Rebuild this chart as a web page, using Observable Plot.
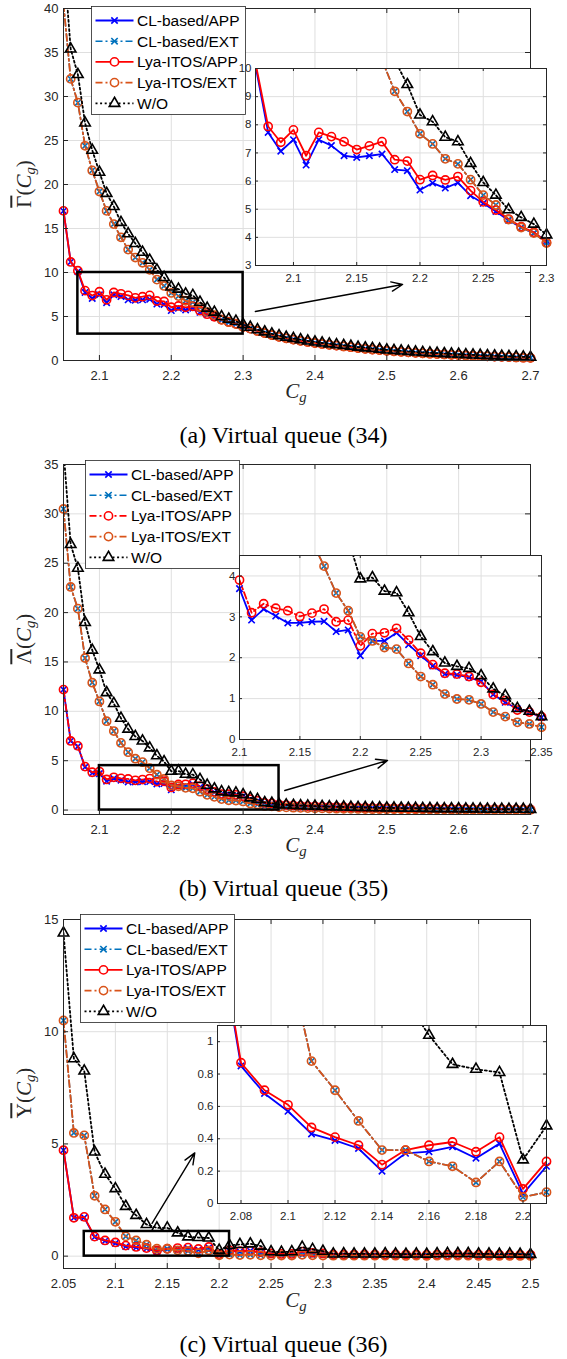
<!DOCTYPE html>
<html>
<head>
<meta charset="utf-8">
<script src="https://cdn.jsdelivr.net/npm/d3@7"></script>
<script src="https://cdn.jsdelivr.net/npm/@observablehq/plot@0.6"></script>
<style>
  body { margin: 0; background: #fff; }
  #root { position: relative; width: 567px; height: 1359px; overflow: hidden; background: #fff; }
  .abs { position: absolute; }
  .cap { position: absolute; left: 0; width: 567px; text-align: center; line-height: 24px;
         font-family: "Liberation Serif", "Times New Roman", serif; font-size: 24px; color: #000; white-space: nowrap; }
  .xlab { position: absolute; transform: translate(-50%, -50%); font-family: "Liberation Serif", serif;
          font-size: 21px; color: #262626; white-space: nowrap; line-height: 1; }
  .ylab { position: absolute; transform: translate(-50%, -50%) rotate(-90deg); font-family: "Liberation Serif", serif;
          font-size: 21px; color: #262626; white-space: nowrap; line-height: 1; }
  .ov { text-decoration: overline; }
  sub { font-size: 70%; vertical-align: -0.25em; }
</style>
</head>
<body>
<div id="root"></div>
<script>
// ---------------- DATA ----------------
const xsAB = [2.05, 2.06, 2.07, 2.08, 2.09, 2.10, 2.11, 2.12, 2.13, 2.14, 2.15, 2.16, 2.17, 2.18, 2.19,
  2.20, 2.21, 2.22, 2.23, 2.24, 2.25, 2.26, 2.27, 2.28, 2.29, 2.30, 2.31, 2.32, 2.33, 2.34, 2.35,
  2.36, 2.37, 2.38, 2.39, 2.40, 2.41, 2.42, 2.43, 2.44, 2.45, 2.46, 2.47, 2.48, 2.49, 2.50,
  2.51, 2.52, 2.53, 2.54, 2.55, 2.56, 2.57, 2.58, 2.59, 2.60, 2.61, 2.62, 2.63, 2.64, 2.65,
  2.66, 2.67, 2.68, 2.69, 2.70];
const xsC = [2.05, 2.06, 2.07, 2.08, 2.09, 2.10, 2.11, 2.12, 2.13, 2.14, 2.15, 2.16, 2.17, 2.18, 2.19,
  2.20, 2.21, 2.22, 2.23, 2.24, 2.25, 2.26, 2.27, 2.28, 2.29, 2.30, 2.31, 2.32, 2.33, 2.34, 2.35,
  2.36, 2.37, 2.38, 2.39, 2.40, 2.41, 2.42, 2.43, 2.44, 2.45, 2.46, 2.47, 2.48, 2.49, 2.50];

const seriesNames = ["CL-based/APP", "CL-based/EXT", "Lya-ITOS/APP", "Lya-ITOS/EXT", "W/O"];

// Panel (a): Virtual queue (34)   (2.05 .. 2.30, then 2.31 .. 2.70)
const clAppHeadA  = [17.0, 11.2, 10.1, 7.73, 7.06, 7.47, 6.57, 7.47, 7.26, 6.90, 6.84, 6.90, 6.96, 6.41, 6.37, 5.68, 5.93, 5.75, 5.94, 5.48, 5.21, 4.92, 4.61, 4.35, 4.15, 3.88];
const lyaAppHeadA = [17.0, 11.2, 10.2, 7.94, 7.38, 7.82, 6.90, 7.73, 7.58, 7.40, 7.12, 7.25, 7.40, 6.76, 6.71, 6.05, 6.20, 6.04, 6.16, 5.66, 5.26, 4.97, 4.65, 4.38, 4.18, 3.82];
const extHeadA    = [40.5, 32.0, 29.3, 24.4, 21.6, 19.2, 17.0, 15.5, 14.0, 12.6, 11.7, 11.1, 10.3, 9.19, 8.47, 7.68, 7.32, 6.79, 6.61, 6.05, 5.50, 5.15, 4.63, 4.35, 4.15, 3.80];
const woHeadA     = [46.0, 35.4, 32.5, 27.0, 23.9, 21.4, 19.0, 17.5, 15.7, 14.4, 13.3, 12.3, 11.4, 10.3, 9.43, 8.35, 8.11, 7.56, 7.40, 6.63, 5.95, 5.50, 4.98, 4.71, 4.47, 4.09];
const algTailA = [3.62, 3.36, 3.12, 2.90, 2.70, 2.52, 2.38, 2.24, 2.11, 1.99, 1.88, 1.78, 1.69, 1.60, 1.51, 1.41, 1.33, 1.25, 1.18, 1.10,
  1.04, 0.98, 0.92, 0.87, 0.82, 0.77, 0.73, 0.69, 0.65, 0.61, 0.57, 0.54, 0.50, 0.47, 0.44, 0.41, 0.38, 0.35, 0.32, 0.30];
const woTailA = [3.78, 3.50, 3.26, 3.02, 2.82, 2.64, 2.50, 2.36, 2.22, 2.10, 1.99, 1.89, 1.80, 1.71, 1.62, 1.52, 1.44, 1.36, 1.28, 1.20,
  1.14, 1.08, 1.02, 0.97, 0.92, 0.87, 0.83, 0.79, 0.75, 0.71, 0.67, 0.63, 0.60, 0.56, 0.53, 0.50, 0.47, 0.44, 0.41, 0.38];

// Panel (b): Virtual queue (35)   (2.05 .. 2.35, then 2.36 .. 2.70)
const clAppHeadB  = [12.2, 7.0, 6.45, 4.35, 3.75, 3.69, 2.92, 3.19, 3.02, 2.85, 2.85, 2.88, 2.89, 2.64, 2.68, 2.05, 2.41, 2.41, 2.61, 2.32, 2.05, 1.80, 1.60, 1.58, 1.52, 1.42, 1.10, 0.91, 0.75, 0.67, 0.54];
const lyaAppHeadB = [12.2, 7.0, 6.5, 4.4, 3.83, 3.90, 3.10, 3.32, 3.21, 3.15, 3.01, 3.09, 3.19, 2.88, 2.92, 2.29, 2.59, 2.61, 2.72, 2.43, 2.11, 1.83, 1.62, 1.60, 1.54, 1.40, 1.10, 0.95, 0.72, 0.67, 0.56];
const extHeadB    = [30.5, 22.6, 20.4, 15.4, 12.9, 11.0, 9.0, 8.0, 6.8, 5.86, 5.2, 4.85, 4.24, 3.58, 3.15, 2.51, 2.41, 2.25, 2.21, 1.86, 1.54, 1.34, 1.11, 0.99, 0.97, 0.87, 0.67, 0.56, 0.42, 0.38, 0.30];
const woHeadB     = [36.5, 26.9, 24.5, 19.0, 16.2, 14.2, 11.9, 10.8, 9.3, 8.2, 7.45, 7.0, 6.3, 5.5, 4.9, 3.93, 3.96, 3.63, 3.59, 3.10, 2.52, 2.15, 1.87, 1.79, 1.74, 1.56, 1.24, 1.07, 0.76, 0.69, 0.56];
const appTailB = [0.50, 0.46, 0.43, 0.40, 0.38, 0.35, 0.33, 0.31, 0.29, 0.27, 0.25, 0.24, 0.22, 0.21, 0.20, 0.19, 0.18, 0.17, 0.16, 0.15,
  0.14, 0.13, 0.13, 0.12, 0.11, 0.11, 0.10, 0.09, 0.09, 0.08, 0.08, 0.07, 0.07, 0.06, 0.06];
const extTailB = [0.27, 0.24, 0.22, 0.20, 0.18, 0.17, 0.15, 0.14, 0.13, 0.12, 0.11, 0.10, 0.09, 0.09, 0.08, 0.08, 0.07, 0.07, 0.06, 0.06,
  0.05, 0.05, 0.05, 0.04, 0.04, 0.04, 0.04, 0.03, 0.03, 0.03, 0.03, 0.03, 0.02, 0.02, 0.02];
const woTailB = [0.52, 0.48, 0.45, 0.42, 0.40, 0.37, 0.35, 0.33, 0.31, 0.29, 0.27, 0.26, 0.24, 0.23, 0.22, 0.21, 0.20, 0.19, 0.18, 0.17,
  0.16, 0.15, 0.14, 0.14, 0.13, 0.12, 0.12, 0.11, 0.10, 0.10, 0.09, 0.09, 0.08, 0.08, 0.07];

// Panel (c): Virtual queue (36)   (2.05 .. 2.50)
const clAppC  = [4.72, 1.71, 1.72, 0.85, 0.68, 0.57, 0.43, 0.39, 0.34, 0.20, 0.31, 0.32, 0.35, 0.28, 0.37, 0.06, 0.23,
  0.20, 0.23, 0.16, 0.11, 0.09, 0.09, 0.18, 0.13, 0.11,
  0.07, 0.07, 0.06, 0.07, 0.06, 0.06, 0.07, 0.06, 0.06, 0.05, 0.06, 0.06, 0.07, 0.07, 0.06, 0.06, 0.05, 0.05, 0.05, 0.05];
const lyaAppC = [4.72, 1.71, 1.75, 0.87, 0.70, 0.61, 0.47, 0.41, 0.36, 0.24, 0.33, 0.36, 0.38, 0.32, 0.41, 0.09, 0.26,
  0.22, 0.25, 0.18, 0.12, 0.10, 0.10, 0.20, 0.15, 0.12,
  0.08, 0.08, 0.07, 0.08, 0.07, 0.07, 0.08, 0.07, 0.07, 0.06, 0.07, 0.07, 0.08, 0.08, 0.07, 0.07, 0.06, 0.06, 0.06, 0.06];
const extC    = [10.5, 5.49, 5.38, 2.69, 2.08, 1.53, 0.88, 0.70, 0.51, 0.33, 0.33, 0.26, 0.23, 0.13, 0.26, 0.04, 0.07,
  0.05, 0.06, 0.04, 0.03, 0.03, 0.03, 0.06, 0.04, 0.03,
  0.02, 0.02, 0.02, 0.02, 0.02, 0.02, 0.02, 0.01, 0.02, 0.01, 0.02, 0.02, 0.02, 0.02, 0.01, 0.01, 0.01, 0.01, 0.01, 0.01];
const woC     = [14.4, 8.8, 8.25, 4.64, 3.65, 3.01, 2.22, 1.82, 1.41, 1.26, 1.26, 1.04, 0.86, 0.83, 0.81, 0.27, 0.48,
  0.52, 0.55, 0.45, 0.20, 0.18, 0.20, 0.40, 0.30, 0.22,
  0.10, 0.11, 0.10, 0.10, 0.10, 0.11, 0.10, 0.09, 0.10, 0.09, 0.11, 0.12, 0.12, 0.12, 0.10, 0.10, 0.09, 0.10, 0.09, 0.08];

// Tick values
const xTicksAB = [2.1, 2.2, 2.3, 2.4, 2.5, 2.6, 2.7];
const xTicksC = [2.05, 2.1, 2.15, 2.2, 2.25, 2.3, 2.35, 2.4, 2.45, 2.5];
const yTicksA = [0, 5, 10, 15, 20, 25, 30, 35, 40];
const yTicksB = [0, 5, 10, 15, 20, 25, 30, 35];
const yTicksC = [0, 5, 10, 15];
const insetXTicksA = [2.1, 2.15, 2.2, 2.25, 2.3];
const insetYTicksA = [3, 4, 5, 6, 7, 8, 9, 10];
const insetXTicksB = [2.1, 2.15, 2.2, 2.25, 2.3, 2.35];
const insetYTicksB = [0, 1, 2, 3, 4];
const insetXTicksC = [2.08, 2.1, 2.12, 2.14, 2.16, 2.18, 2.2];
const insetYTicksC = [0, 0.2, 0.4, 0.6, 0.8, 1];

// Zoom boxes and arrows (data coordinates of the main axes)
const zoomBoxA = {x1: 2.07, x2: 2.30, y1: 3, y2: 10};
const zoomBoxB = {x1: 2.10, x2: 2.35, y1: 0, y2: 4.5};
const zoomBoxC = {x1: 2.07, x2: 2.21, y1: 0, y2: 1.1};
const arrowA = {x1: 2.317, y1: 5.57, x2: 2.522, y2: 8.64};
const arrowB = {x1: 2.358, y1: 1.98, x2: 2.501, y2: 5.02};
const arrowC = {x1: 2.1353, y1: 1.46, x2: 2.1765, y2: 4.6};

const captions = ["(a) Virtual queue (34)", "(b) Virtual queue (35)", "(c) Virtual queue (36)"];
const yLabelSymbols = ["Γ", "Λ", "Υ"];

// ---------------- BUILD ----------------
const clAppA = [...clAppHeadA, ...algTailA];
const lyaAppA = [...lyaAppHeadA, ...algTailA];
const extA = [...extHeadA, ...algTailA];
const woA = [...woHeadA, ...woTailA];
const clAppB = [...clAppHeadB, ...appTailB];
const lyaAppB = [...lyaAppHeadB, ...appTailB];
const extB = [...extHeadB, ...extTailB];
const woB = [...woHeadB, ...woTailB];

const DASHDOT = "7,3,2,3";
const DOTTED = "2,2.6";
const GRID = "#dfdfdf";
const AXIS = "#262626";
const FONT = "'Liberation Sans', Arial, Helvetica, sans-serif";

function styles(lyaDash) {
  return [
    {stroke: "#0000FF", dash: null, symbol: "times", r: 3.0, sw: 1.8},
    {stroke: "#0072BD", dash: DASHDOT, symbol: "times", r: 3.0, sw: 1.6},
    {stroke: "#FF0000", dash: lyaDash ? DASHDOT : null, symbol: "circle", r: 4.1, sw: 1.8},
    {stroke: "#D95319", dash: DASHDOT, symbol: "circle", r: 4.1, sw: 1.8},
    {stroke: "#000000", dash: DOTTED, symbol: "triangle", r: 3.9, sw: 1.8}
  ];
}

const fmt = d => String(+(+d).toFixed(3));

function seriesMarks(xs, ys, st, xd, yd) {
  const marks = [];
  ys.forEach((arr, i) => {
    const s = st[i];
    const rows = xs.map((x, j) => ({x, y: arr[j]}));
    const lineOpts = {x: "x", y: "y", stroke: s.stroke, strokeWidth: s.sw, clip: true};
    if (s.dash) lineOpts.strokeDasharray = s.dash;
    marks.push(Plot.line(rows, lineOpts));
    const vis = rows.filter(d => d.x >= xd[0] - 1e-9 && d.x <= xd[1] + 1e-9 && d.y >= yd[0] && d.y <= yd[1]);
    marks.push(Plot.dot(vis, {x: "x", y: "y", symbol: s.symbol, r: s.r, stroke: s.stroke, fill: "none", strokeWidth: 1.6}));
  });
  return marks;
}

function tickMarks(xt, yt, fw, fh, tl) {
  return [
    Plot.tickX(xt, {x: d => d, insetTop: fh - tl, stroke: AXIS, strokeWidth: 1}),
    Plot.tickX(xt, {x: d => d, insetBottom: fh - tl, stroke: AXIS, strokeWidth: 1}),
    Plot.tickY(yt, {y: d => d, insetRight: fw - tl, stroke: AXIS, strokeWidth: 1}),
    Plot.tickY(yt, {y: d => d, insetLeft: fw - tl, stroke: AXIS, strokeWidth: 1})
  ];
}

const root = document.getElementById("root");

function place(node, left, top) {
  const div = document.createElement("div");
  div.className = "abs";
  div.style.left = left + "px";
  div.style.top = top + "px";
  div.appendChild(node);
  root.appendChild(div);
  return div;
}

function mainPlot(c) {
  const W = 567, ml = 63, mr = 37, mb = 32;
  const fw = W - ml - mr;
  const p = Plot.plot({
    width: W, height: c.mt + c.fh + mb,
    marginLeft: ml, marginRight: mr, marginTop: c.mt, marginBottom: mb,
    x: {domain: c.xd, axis: null},
    y: {domain: c.yd, axis: null},
    style: {fontFamily: FONT, fontSize: "13px", color: AXIS, background: "transparent", overflow: "visible"},
    marks: [
      Plot.gridX(c.xt, {stroke: GRID, strokeOpacity: 1, strokeWidth: 1}),
      Plot.gridY(c.yt, {stroke: GRID, strokeOpacity: 1, strokeWidth: 1}),
      ...seriesMarks(c.xs, c.ys, c.st, c.xd, c.yd),
      Plot.rect([c.box], {x1: "x1", x2: "x2", y1: "y1", y2: "y2", stroke: "#000", strokeWidth: 2.5, fill: "none"}),
      Plot.arrow([c.arrow], {x1: "x1", y1: "y1", x2: "x2", y2: "y2", stroke: "#000", strokeWidth: 1.4, headLength: 13, headAngle: 45}),
      ...tickMarks(c.xt, c.yt, fw, c.fh, 5),
      Plot.frame({stroke: AXIS, strokeWidth: 1}),
      Plot.axisX(c.xt, {tickSize: 0, tickPadding: 10, tickFormat: fmt, label: null}),
      Plot.axisY(c.yt, {tickSize: 0, tickPadding: 5, tickFormat: fmt, label: null})
    ]
  });
  place(p, 0, c.top);
}

function insetPlot(c) {
  const ml = 32, mr = 14, mt = 4, mb = 24;
  const fw = c.fw, fh = c.fh;
  const p = Plot.plot({
    width: fw + ml + mr, height: fh + mt + mb,
    marginLeft: ml, marginRight: mr, marginTop: mt, marginBottom: mb,
    x: {domain: c.xd, axis: null},
    y: {domain: c.yd, axis: null},
    style: {fontFamily: FONT, fontSize: "11.5px", color: AXIS, background: "transparent", overflow: "visible"},
    marks: [
      Plot.frame({fill: "white", stroke: "none"}),
      Plot.gridX(c.xt, {stroke: GRID, strokeOpacity: 1, strokeWidth: 1}),
      Plot.gridY(c.yt, {stroke: GRID, strokeOpacity: 1, strokeWidth: 1}),
      ...seriesMarks(c.xs, c.ys, c.st, c.xd, c.yd),
      ...tickMarks(c.xt, c.yt, fw, fh, 3),
      Plot.frame({stroke: AXIS, strokeWidth: 1}),
      Plot.axisX(c.xt, {tickSize: 0, tickPadding: 8, tickFormat: fmt, label: null}),
      Plot.axisY(c.yt, {tickSize: 0, tickPadding: 4, tickFormat: fmt, label: null})
    ]
  });
  place(p, c.left - ml, c.top - mt);
}

function legend(st, left, top) {
  const w = 154, h = 108;
  const svg = d3.create("svg").attr("width", w + 2).attr("height", h + 2)
    .style("overflow", "visible").style("display", "block");
  svg.append("rect").attr("x", 0.5).attr("y", 0.5).attr("width", w).attr("height", h)
    .attr("fill", "white").attr("stroke", AXIS).attr("stroke-width", 0.8);
  const symMap = {times: d3.symbolTimes, circle: d3.symbolCircle, triangle: d3.symbolTriangle};
  seriesNames.forEach((name, i) => {
    const s = st[i];
    const y = 14.5 + 20.7 * i;
    const ln = svg.append("line").attr("x1", 4.5).attr("x2", 42.5).attr("y1", y).attr("y2", y)
      .attr("stroke", s.stroke).attr("stroke-width", s.sw);
    if (s.dash) ln.attr("stroke-dasharray", s.dash);
    if (s.symbol === "circle") {
      svg.append("circle").attr("cx", 23.5).attr("cy", y).attr("r", s.r)
        .attr("fill", "white").attr("stroke", s.stroke).attr("stroke-width", 1.6);
    } else {
      svg.append("path").attr("transform", `translate(23.5,${y})`)
        .attr("d", d3.symbol(symMap[s.symbol], s.r * s.r * Math.PI)())
        .attr("fill", s.symbol === "triangle" ? "white" : "none").attr("stroke", s.stroke).attr("stroke-width", 1.6);
    }
    svg.append("text").attr("x", 46).attr("y", y).attr("dy", "0.36em")
      .attr("font-family", FONT).attr("font-size", "15.5px").attr("fill", "#000").text(name);
  });
  place(svg.node(), left, top);
}

function html(cls, left, top, inner) {
  const d = document.createElement("div");
  d.className = cls;
  d.style.left = left + "px";
  d.style.top = top + "px";
  d.innerHTML = inner;
  root.appendChild(d);
}

// ---------- Panel (a) ----------
const stA = styles(false);
mainPlot({top: 0, mt: 8, fh: 352, xd: [2.05, 2.70], yd: [0, 40], xt: xTicksAB, yt: yTicksA,
  xs: xsAB, ys: [clAppA, extA, lyaAppA, extA, woA], st: stA, box: zoomBoxA, arrow: arrowA});
legend(stA, 90.5, 6);
insetPlot({left: 255, top: 68, fw: 291, fh: 197, xd: [2.07, 2.30], yd: [3, 10], xt: insetXTicksA, yt: insetYTicksA,
  xs: xsAB, ys: [clAppA, extA, lyaAppA, extA, woA], st: stA});

// ---------- Panel (b) ----------
const stB = styles(true);
mainPlot({top: 450, mt: 14, fh: 350, xd: [2.05, 2.70], yd: [-0.45, 35], xt: xTicksAB, yt: yTicksB,
  xs: xsAB, ys: [clAppB, extB, lyaAppB, extB, woB], st: stB, box: zoomBoxB, arrow: arrowB});
legend(stB, 85, 459.5);
insetPlot({left: 239, top: 555, fw: 302, fh: 184, xd: [2.10, 2.35], yd: [0, 4.5], xt: insetXTicksB, yt: insetYTicksB,
  xs: xsAB, ys: [clAppB, extB, lyaAppB, extB, woB], st: stB});

// ---------- Panel (c) ----------
const stC = styles(false);
mainPlot({top: 905, mt: 14, fh: 349, xd: [2.05, 2.50], yd: [-0.55, 15], xt: xTicksC, yt: yTicksC,
  xs: xsC, ys: [clAppC, extC, lyaAppC, extC, woC], st: stC, box: zoomBoxC, arrow: arrowC});
legend(stC, 79.5, 913.5);
insetPlot({left: 217, top: 1025, fw: 329, fh: 178, xd: [2.07, 2.21], yd: [0, 1.1], xt: insetXTicksC, yt: insetYTicksC,
  xs: xsC, ys: [clAppC, extC, lyaAppC, extC, woC], st: stC});

// ---------- Labels & captions ----------
const cg = "<i>C</i><sub><i>g</i></sub>";
html("xlab", 296, 393, cg);
html("xlab", 296, 847, cg);
html("xlab", 296, 1302, cg);
html("ylab", 26, 184, `<span class="ov">${yLabelSymbols[0]}</span>(${cg})`);
html("ylab", 26, 639, `<span class="ov">${yLabelSymbols[1]}</span>(${cg})`);
html("ylab", 26, 1093, `<span class="ov">${yLabelSymbols[2]}</span>(${cg})`);
html("cap", 0, 423, captions[0]);
html("cap", 0, 876, captions[1]);
html("cap", 0, 1332, captions[2]);
</script>
</body>
</html>
